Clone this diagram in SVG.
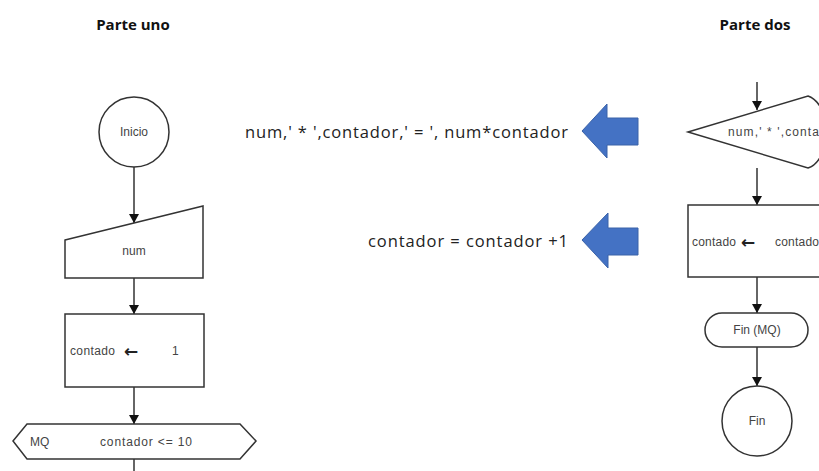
<svg xmlns="http://www.w3.org/2000/svg" width="819" height="471" viewBox="0 0 819 471">
<defs>
<style>
.sh{fill:#fff;stroke:#333;stroke-width:1.5}
.ln{fill:none;stroke:#333;stroke-width:1.5}
.sm{font-family:"Liberation Sans",Arial,sans-serif;font-size:12px;fill:#444}
.ar{font-family:"DejaVu Sans",sans-serif;font-size:17px;font-weight:bold;fill:#222}
.hd{font-family:"Open Sans","Liberation Sans",sans-serif;font-size:15px;font-weight:bold;fill:#111}
.md{font-family:"Open Sans","Liberation Sans",sans-serif;font-size:16.5px;fill:#222}
.blue{fill:#4472c4;stroke:#3a62a8;stroke-width:1}
</style>
<marker id="ah" viewBox="0 0 10 10" refX="10" refY="5" markerWidth="9" markerHeight="10" markerUnits="userSpaceOnUse" orient="auto" preserveAspectRatio="none">
<path d="M0,0 L10,5 L0,10 Z" fill="#111"/>
</marker>
</defs>
<rect width="819" height="471" fill="#fff"/>

<text class="hd" x="133" y="30" text-anchor="middle">Parte uno</text>
<text class="hd" x="755" y="30" text-anchor="middle">Parte dos</text>

<g id="connectors">
<line class="ln" x1="134" y1="167" x2="134" y2="223" marker-end="url(#ah)"/>
<line class="ln" x1="134" y1="278" x2="134" y2="314" marker-end="url(#ah)"/>
<line class="ln" x1="134" y1="387" x2="134" y2="424" marker-end="url(#ah)"/>
<line class="ln" x1="134" y1="459" x2="134" y2="471"/>
<line class="ln" x1="757" y1="82" x2="757" y2="110" marker-end="url(#ah)"/>
<line class="ln" x1="757" y1="168" x2="757" y2="205" marker-end="url(#ah)"/>
<line class="ln" x1="757" y1="277" x2="757" y2="313" marker-end="url(#ah)"/>
<line class="ln" x1="757" y1="347" x2="757" y2="386" marker-end="url(#ah)"/>
</g>

<g id="inicio">
<circle class="sh" cx="134" cy="132" r="35"/>
<text class="sm" x="134" y="136" text-anchor="middle">Inicio</text>
</g>

<g id="leer-num">
<path class="sh" d="M65,240 L203,206 L203,278 L65,278 Z"/>
<text class="sm" x="134" y="255" text-anchor="middle">num</text>
</g>

<g id="asignar-1">
<rect class="sh" x="65" y="314" width="139" height="73"/>
<text class="sm" x="70" y="355" textLength="45">contado</text>
<text class="ar" x="124" y="357">←</text>
<text class="sm" x="172" y="355">1</text>
</g>

<g id="mq">
<path class="sh" d="M13,441 L27,424 L240,424 L256,441 L240,459 L27,459 Z"/>
<text class="sm" x="30" y="446">MQ</text>
<text class="sm" x="100" y="446" textLength="92">contador &lt;= 10</text>
</g>

<g id="nota-1">
<text class="md" x="245" y="138" textLength="323">num,' * ',contador,' = ', num*contador</text>
<path class="blue" d="M582,131 L607,104 L607,118 L638,118 L638,145 L607,145 L607,158 Z"/>
</g>

<g id="nota-2">
<text class="md" x="368" y="247" textLength="200">contador = contador +1</text>
<path class="blue" d="M582,240 L608,213 L608,228 L638,228 L638,255 L608,255 L608,268 Z"/>
</g>

<g id="mostrar">
<path class="sh" d="M688,132 L808,96 C832,104 832,160 808,168 Z"/>
<text class="sm" x="728" y="136" textLength="91">num,' * ',conta</text>
</g>

<g id="incremento">
<rect class="sh" x="688" y="205" width="150" height="72"/>
<text class="sm" x="692" y="246" textLength="44">contado</text>
<text class="ar" x="741" y="248">←</text>
<text class="sm" x="775" y="246" textLength="44">contado</text>
</g>

<g id="fin-mq">
<rect class="sh" x="705" y="313" width="103" height="34" rx="17"/>
<text class="sm" x="757" y="334" text-anchor="middle">Fin (MQ)</text>
</g>

<g id="fin">
<circle class="sh" cx="757" cy="421" r="35"/>
<text class="sm" x="757" y="425" text-anchor="middle">Fin</text>
</g>
</svg>
